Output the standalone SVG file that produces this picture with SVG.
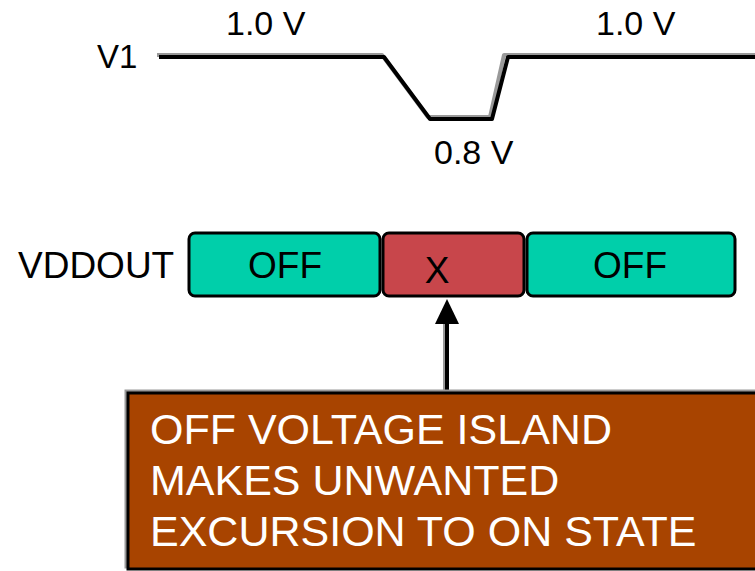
<svg xmlns="http://www.w3.org/2000/svg" width="755" height="571" viewBox="0 0 755 571">
<defs>
<style>
.t{font-family:"Liberation Sans",Arial,sans-serif;fill:#000}
.w{font-family:"Liberation Sans",Arial,sans-serif;fill:#fff;font-size:43px}
.box{stroke:#000;stroke-width:3}
.sh{fill:none;stroke:#999;stroke-width:3}
</style>
</defs>
<rect width="755" height="571" fill="#fff"/>
<g id="waveform">
<text class="t" x="97" y="68" font-size="33">V1</text>
<text class="t" x="226" y="35" font-size="34">1.0 V</text>
<text class="t" x="596" y="35" font-size="34">1.0 V</text>
<text class="t" x="434" y="164" font-size="34">0.8 V</text>
<polyline points="157,55 382,55 428,117 490,117 504,55 755,55" fill="none" stroke="#999" stroke-width="4" stroke-linejoin="round"/>
<polyline points="159,57 384,57 430,119 492,119 508,57 755,57" fill="none" stroke="#000" stroke-width="4" stroke-linejoin="round"/>
</g>
<text class="t" x="18" y="278" font-size="37">VDDOUT</text>
<g id="off1">
<rect x="189" y="233" width="191" height="63" rx="6" fill="#00CFAA" class="box"/>
<text class="t" x="285" y="278" font-size="37" text-anchor="middle">OFF</text>
</g>
<g id="x">
<rect x="383" y="233" width="141" height="63" rx="6" fill="#C8464B" class="box"/>
<text class="t" x="437" y="283" font-size="37" text-anchor="middle">X</text>
</g>
<g id="off2">
<rect x="527" y="233" width="208" height="63" rx="6" fill="#00CFAA" class="box"/>
<text class="t" x="630" y="278" font-size="37" text-anchor="middle">OFF</text>
</g>
<g id="connectors">
<line x1="445" y1="390" x2="445" y2="322" stroke="#999" stroke-width="4"/>
<line x1="447" y1="393" x2="447" y2="322" stroke="#000" stroke-width="4"/>
<polygon points="447,299 435,324 459,324" fill="#000"/>
</g>
<g id="note">
<rect x="126" y="391" width="640" height="176" class="sh"/>
<rect x="128" y="393" width="640" height="176" fill="#A84400" class="box"/>
<text class="w" x="150" y="444">OFF VOLTAGE ISLAND</text>
<text class="w" x="150" y="495">MAKES UNWANTED</text>
<text class="w" x="150" y="546">EXCURSION TO ON STATE</text>
</g>
</svg>
